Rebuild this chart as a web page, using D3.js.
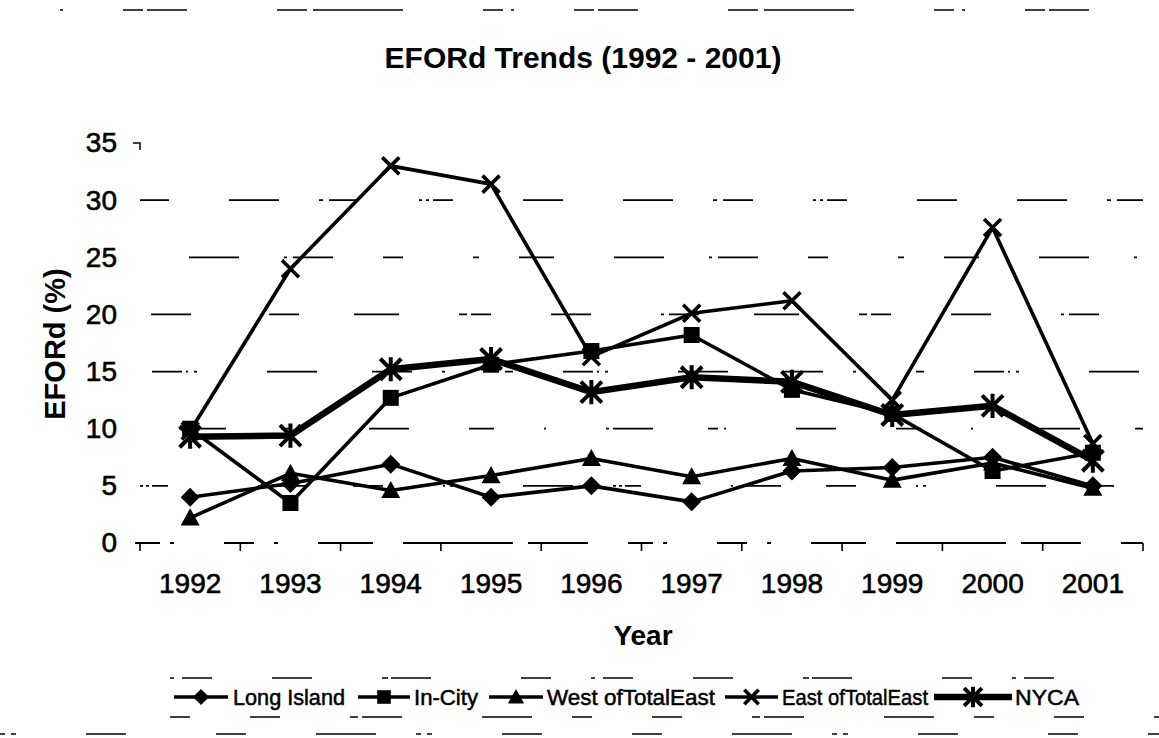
<!DOCTYPE html>
<html>
<head>
<meta charset="utf-8">
<script src="https://cdn.jsdelivr.net/npm/d3@7"></script>
<style>
  html, body { margin: 0; padding: 0; background: #fff; }
  svg { display: block; font-family: "Liberation Sans", Arial, sans-serif; }
</style>
</head>
<body>
<svg id="chart" width="1159" height="738"></svg>
<script>
// ---- data ----
const years = ["1992","1993","1994","1995","1996","1997","1998","1999","2000","2001"];
const longIsland      = [4.0, 5.2, 6.9, 4.0, 5.0, 3.6, 6.3, 6.6, 7.5, 5.0];
const inCity          = [10.0, 3.5, 12.7, 15.6, 16.8, 18.2, 13.4, 11.3, 6.3, 7.9];
const westOfTotalEast = [2.2, 6.1, 4.6, 5.9, 7.4, 5.8, 7.4, 5.5, 7.0, 4.8];
const eastOfTotalEast = [9.8, 24.0, 33.0, 31.4, 16.3, 20.1, 21.2, 12.5, 27.6, 8.7];
const nyca            = [9.3, 9.4, 15.2, 16.1, 13.2, 14.5, 14.1, 11.2, 12.0, 7.2];
const yTicks = [0, 5, 10, 15, 20, 25, 30, 35];
const seriesNames = ["Long Island", "In-City", "West ofTotalEast", "East ofTotalEast", "NYCA"];

const series = [
  { name: seriesNames[0], values: longIsland,      marker: "diamond",  width: 3.6 },
  { name: seriesNames[1], values: inCity,          marker: "square",   width: 3.6 },
  { name: seriesNames[2], values: westOfTotalEast, marker: "triangle", width: 3.6 },
  { name: seriesNames[3], values: eastOfTotalEast, marker: "x",        width: 3.6 },
  { name: seriesNames[4], values: nyca,            marker: "asterisk", width: 6.5 }
];

const svg = d3.select("#chart");
const plotL = 140, plotR = 1143, plotT = 143, plotB = 543;

const x = d3.scaleBand().domain(years).range([plotL, plotR]);
const xc = d => x(d) + x.bandwidth() / 2;
const y = d3.scaleLinear().domain([0, 35]).range([plotB, plotT]);

// ---- scan-like broken gridlines ----
const dashPatterns = [
  "3,3,3,3,16,90,2,8,40,45,30,60,2,5,3,70,50,40",
  "2,60,3,4,40,55,10,6,2,70,40,60,25,50",
  "8,50,30,4,2,6,3,70,50,55,40,30,3,60",
  "20,60,40,70,3,5,30,55,45,60,8,4",
  "6,40,35,60,50,45,3,6,40,50,20,70",
  "3,4,3,4,20,70,40,60,50,40,4,6,30,60",
  "2,6,2,6,30,50,70,40,12,5"
];
const grid = svg.append("g");
yTicks.filter(t => t > 0 && t < 35).forEach((t, i) => {
  grid.append("line")
    .attr("x1", plotL).attr("x2", plotR)
    .attr("y1", y(t)).attr("y2", y(t))
    .attr("stroke", "#000").attr("stroke-width", 1.7)
    .attr("stroke-dasharray", dashPatterns[i % dashPatterns.length])
    .attr("stroke-dashoffset", i * 23);
});
// baseline (0) — broken as in the scan
grid.append("line")
  .attr("x1", plotL - 5).attr("x2", plotR)
  .attr("y1", y(0)).attr("y2", y(0))
  .attr("stroke", "#000").attr("stroke-width", 1.8)
  .attr("stroke-dasharray", "25,10,4,50,30,20,4,40,55,30,110,15,60,40");
// category tick marks on the x axis
const tickBounds = years.map(d => x(d)).concat([plotR]);
tickBounds.forEach(tx => {
  grid.append("line")
    .attr("x1", tx).attr("x2", tx)
    .attr("y1", y(0)).attr("y2", y(0) + 8)
    .attr("stroke", "#000").attr("stroke-width", 1.6);
});
// remnant of the y axis near the top
grid.append("path")
  .attr("d", `M${plotL - 7},${y(35)}H${plotL}V${y(35) + 7}`)
  .attr("fill", "none").attr("stroke", "#000").attr("stroke-width", 1.5);

// ---- scan artifacts around the edges ----
const artifacts = [
  { y: 10, x1: 60, x2: 1159, dash: "3,60,20,4,40,90,30,6,90,80,20,8" },
  { y: 678, x1: 170, x2: 1100, dash: "4,8,30,60,40,70,6,3,40,90,30,40" },
  { y: 717, x1: 170, x2: 1159, dash: "20,60,30,70,8,4,40,80,50,40" },
  { y: 734, x1: 0, x2: 1159, dash: "5,6,5,70,40,90,30,70,60,40" }
];
artifacts.forEach(a => {
  svg.append("line").attr("x1", a.x1).attr("x2", a.x2).attr("y1", a.y).attr("y2", a.y)
    .attr("stroke", "#000").attr("stroke-width", 1.4).attr("stroke-dasharray", a.dash);
});

// ---- axis labels ----
const yAxis = d3.axisLeft(y).tickValues(yTicks).tickSize(0).tickPadding(23);
const gy = svg.append("g").attr("transform", `translate(${plotL},0)`).call(yAxis);
gy.select(".domain").remove();
gy.selectAll("text").attr("font-size", 28).attr("fill", "#000")
  .attr("stroke", "#000").attr("stroke-width", 0.6)
  .attr("font-family", "'Liberation Sans', Arial, sans-serif");

const xAxis = d3.axisBottom(x).tickSize(0).tickPadding(30);
const gx = svg.append("g").attr("transform", `translate(0,${plotB})`).call(xAxis);
gx.select(".domain").remove();
gx.selectAll("text").attr("font-size", 28).attr("fill", "#000")
  .attr("stroke", "#000").attr("stroke-width", 0.6)
  .attr("font-family", "'Liberation Sans', Arial, sans-serif");

svg.append("text").attr("x", 583).attr("y", 68).attr("text-anchor", "middle")
  .attr("font-size", 30).attr("font-weight", "bold").text("EFORd Trends (1992 - 2001)");
svg.append("text").attr("x", 643).attr("y", 645).attr("text-anchor", "middle")
  .attr("font-size", 28).attr("font-weight", "bold").text("Year");
svg.append("text").attr("transform", "translate(65,344) rotate(-90)").attr("text-anchor", "middle")
  .attr("font-size", 29).attr("font-weight", "bold").text("EFORd (%)");

// ---- markers ----
function drawMarker(g, type, cx, cy, scale) {
  const s = scale || 1;
  if (type === "diamond") {
    const r = 9.5 * s;
    g.append("path").attr("d", `M${cx},${cy - r}L${cx + r},${cy}L${cx},${cy + r}L${cx - r},${cy}Z`).attr("fill", "#000");
  } else if (type === "square") {
    const r = 8 * s;
    g.append("rect").attr("x", cx - r).attr("y", cy - r).attr("width", 2 * r).attr("height", 2 * r).attr("fill", "#000");
  } else if (type === "triangle") {
    const r = 9.5 * s;
    g.append("path").attr("d", `M${cx},${cy - r}L${cx + r},${cy + r * 0.8}L${cx - r},${cy + r * 0.8}Z`).attr("fill", "#000");
  } else if (type === "x") {
    const r = 8.5 * s;
    g.append("path").attr("d", `M${cx - r},${cy - r}L${cx + r},${cy + r}M${cx + r},${cy - r}L${cx - r},${cy + r}`)
      .attr("stroke", "#000").attr("stroke-width", 3.6).attr("fill", "none");
  } else if (type === "asterisk") {
    const r = 10.5 * s;
    g.append("path").attr("d", `M${cx - r},${cy - r}L${cx + r},${cy + r}M${cx + r},${cy - r}L${cx - r},${cy + r}M${cx},${cy - r * 1.15}L${cx},${cy + r * 1.15}`)
      .attr("stroke", "#000").attr("stroke-width", 4).attr("fill", "none");
  }
}

// ---- series ----
const line = d3.line().x((v, i) => xc(years[i])).y(v => y(v));
const gs = svg.append("g");
series.forEach(s => {
  gs.append("path").datum(s.values).attr("d", line)
    .attr("fill", "none").attr("stroke", "#000").attr("stroke-width", s.width)
    .attr("stroke-linejoin", "round");
});
series.forEach(s => {
  s.values.forEach((v, i) => drawMarker(gs, s.marker, xc(years[i]), y(v)));
});

// ---- legend ----
const legendY = 697;
const legendItems = [
  { x1: 174, x2: 228, tx: 233, w: 112 },
  { x1: 358, x2: 410, tx: 414, w: 64 },
  { x1: 489, x2: 543, tx: 547, w: 168 },
  { x1: 725, x2: 778, tx: 782, w: 146 },
  { x1: 934, x2: 1012, tx: 1015, w: 64 }
];
const gl = svg.append("g");
series.forEach((s, i) => {
  const it = legendItems[i];
  gl.append("line").attr("x1", it.x1).attr("x2", it.x2).attr("y1", legendY).attr("y2", legendY)
    .attr("stroke", "#000").attr("stroke-width", s.width);
  drawMarker(gl, s.marker, (it.x1 + it.x2) / 2, legendY, 0.85);
  gl.append("text").attr("x", it.tx).attr("y", legendY + 8).attr("font-size", 22)
    .attr("textLength", it.w).attr("lengthAdjust", "spacingAndGlyphs")
    .attr("fill", "#000").attr("stroke", "#000").attr("stroke-width", 0.5).text(s.name);
});
</script>
</body>
</html>
